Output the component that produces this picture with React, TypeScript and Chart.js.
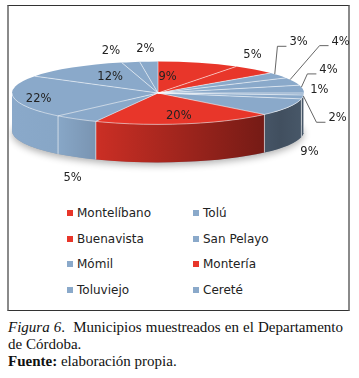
import React, { useEffect, useRef } from 'react';
import { Chart, registerables } from 'chart.js';
Chart.register(...registerables);

// ---- data ----
const sliceValues = [9, 5, 3, 4, 4, 1, 2, 9, 20, 5, 22, 12, 2, 2];
const sliceGroups = ['r', 'r', 'b', 'b', 'b', 'b', 'b', 'b', 'r', 'b', 'b', 'b', 'b', 'b'];
const legendNames = ['Montelíbano', 'Tolú', 'Buenavista', 'San Pelayo', 'Mómil', 'Montería', 'Toluviejo', 'Cereté'];
const legendGroups = ['r', 'b', 'r', 'b', 'b', 'r', 'b', 'b'];

// ---- style / layout ----
const RED = '#e8362a';
const BLUE = '#8aa9ca';
const groupColor = (g: string) => (g === 'r' ? RED : BLUE);
const TILT = 0.215;
const DEPTH = 38;
// label placement relative to each slice: angle shift (deg) and radius factor
const labelShift = [-9, -13, -25, -31, -25, -7, 26, 34, 0, -22, -6, 3.5, -2.6, 0];
const labelRadius = [0.52, 1.36, 1.88, 2.06, 1.38, 1.11, 1.47, 2.14, 0.76, 2.77, 0.84, 0.61, 1.39, 1.39];
const labelLeader = [false, false, true, true, true, false, true, false, false, false, false, false, false, false];
const shadeStops: [number, number][] = [[0, 1.0], [0.164, 0.98], [0.308, 0.86], [0.918, 0.47], [1, 0.52]];

function hexToRgb(hex: string) {
  const n = parseInt(hex.slice(1), 16);
  return [(n >> 16) & 255, (n >> 8) & 255, n & 255];
}
function shade(hex: string, f: number) {
  const [r, g, b] = hexToRgb(hex);
  return `rgb(${Math.round(r * f)},${Math.round(g * f)},${Math.round(b * f)})`;
}

const pie3d = {
  id: 'pie3d',
  beforeDatasetsDraw(chart: any) {
    const arcs = chart.getDatasetMeta(0).data;
    if (!arcs.length) return;
    const ctx = chart.ctx;
    const cx = arcs[0].x, cy = arcs[0].y, rx = arcs[0].outerRadius, ry = rx * TILT;
    // shadow under the pie
    ctx.save();
    ctx.beginPath();
    ctx.ellipse(cx, cy + DEPTH, rx, ry, 0, 0, Math.PI * 2);
    ctx.shadowColor = 'rgba(0,0,0,0.3)';
    ctx.shadowBlur = 7;
    ctx.shadowOffsetY = 3;
    ctx.fillStyle = '#8a9bb0';
    ctx.fill();
    ctx.restore();
    // sides
    arcs.forEach((arc: any, i: number) => {
      const t0 = Math.max(arc.startAngle, 0);
      const t1 = Math.min(arc.endAngle, Math.PI);
      if (t1 <= t0) return;
      const base = groupColor(sliceGroups[i]);
      const grad = ctx.createLinearGradient(cx - rx, 0, cx + rx, 0);
      shadeStops.forEach(([u, f]) => grad.addColorStop(u, shade(base, f)));
      ctx.beginPath();
      ctx.ellipse(cx, cy, rx, ry, 0, t0, t1, false);
      ctx.lineTo(cx + rx * Math.cos(t1), cy + DEPTH + ry * Math.sin(t1));
      ctx.ellipse(cx, cy + DEPTH, rx, ry, 0, t1, t0, true);
      ctx.closePath();
      ctx.fillStyle = grad;
      ctx.fill();
    });
    // vertical separators on side
    ctx.save();
    ctx.strokeStyle = 'rgba(255,255,255,0.6)';
    ctx.lineWidth = 1;
    arcs.forEach((arc: any) => {
      const a = arc.startAngle;
      if (a > 0 && a < Math.PI) {
        const x = cx + rx * Math.cos(a), y = cy + ry * Math.sin(a);
        ctx.beginPath();
        ctx.moveTo(x, y);
        ctx.lineTo(x, y + DEPTH);
        ctx.stroke();
      }
    });
    ctx.restore();
    // top face: let Chart.js draw arcs squashed vertically
    ctx.save();
    ctx.translate(cx, cy);
    ctx.scale(1, TILT);
    ctx.translate(-cx, -cy);
  },
  afterDatasetsDraw(chart: any) {
    const ctx = chart.ctx;
    ctx.restore();
    const arcs = chart.getDatasetMeta(0).data;
    if (!arcs.length) return;
    const cx = arcs[0].x, cy = arcs[0].y, rx = arcs[0].outerRadius, ry = rx * TILT;
    // slice boundaries on top face
    ctx.save();
    ctx.strokeStyle = 'rgba(255,255,255,0.55)';
    ctx.lineWidth = 1;
    arcs.forEach((arc: any) => {
      const a = arc.startAngle;
      ctx.beginPath();
      ctx.moveTo(cx, cy);
      ctx.lineTo(cx + rx * Math.cos(a), cy + ry * Math.sin(a));
      ctx.stroke();
    });
    ctx.beginPath();
    ctx.ellipse(cx, cy, rx, ry, 0, 0, Math.PI, false);
    ctx.strokeStyle = 'rgba(255,255,255,0.5)';
    ctx.stroke();
    ctx.restore();
    // labels
    ctx.save();
    ctx.font = '11.5px "DejaVu Sans"';
    ctx.textAlign = 'center';
    ctx.textBaseline = 'middle';
    arcs.forEach((arc: any, i: number) => {
      const mid = (arc.startAngle + arc.endAngle) / 2 + (labelShift[i] * Math.PI) / 180;
      const R = labelRadius[i];
      const lx = cx + R * rx * Math.cos(mid);
      const ly = cy + R * ry * Math.sin(mid);
      const text = sliceValues[i] + '%';
      if (labelLeader[i]) {
        const w = ctx.measureText(text).width;
        const left = lx - w / 2;
        const a = arc.startAngle + 0.25 * (arc.endAngle - arc.startAngle);
        ctx.beginPath();
        ctx.moveTo(cx + rx * Math.cos(a), cy + ry * Math.sin(a));
        ctx.lineTo(left - 12, ly + 4);
        ctx.lineTo(left - 3, ly + 4);
        ctx.strokeStyle = '#555';
        ctx.lineWidth = 0.9;
        ctx.stroke();
      }
      ctx.fillStyle = '#222';
      ctx.fillText(text, lx, ly);
    });
    ctx.restore();
  },
};

export default function App() {
  const ref = useRef<HTMLCanvasElement>(null);
  useEffect(() => {
    if (!ref.current) return;
    const chart = new Chart(ref.current, {
      type: 'pie',
      data: {
        labels: sliceValues.map((v) => v + '%'),
        datasets: [
          {
            data: sliceValues,
            backgroundColor: sliceGroups.map(groupColor),
            borderWidth: 0,
            clip: false as any,
          },
        ],
      },
      options: {
        responsive: false,
        animation: false,
        events: [],
        radius: 146,
        layout: { padding: { left: 0, top: 0, right: 42, bottom: 16 } },
        plugins: { legend: { display: false }, tooltip: { enabled: false } },
      } as any,
      plugins: [pie3d],
    });
    return () => chart.destroy();
  }, []);

  return (
    <div style={{ position: 'absolute', left: 0, top: 0, width: 359, height: 378, background: '#fff' }}>
      <div
        style={{
          position: 'absolute',
          left: 7,
          top: 5,
          width: 343,
          height: 306,
          boxSizing: 'border-box',
          borderTop: '1px solid #333',
          borderBottom: '1px solid #333',
          borderLeft: '2px solid #8a8a8a',
          borderRight: '2px solid #8a8a8a',
        }}
      />
      <canvas ref={ref} width={340} height={190} style={{ position: 'absolute', left: 9, top: 6, width: 340, height: 190 }} />
      {legendNames.map((name, i) => {
        const col = i % 2;
        const row = Math.floor(i / 2);
        const x = col === 0 ? 67 : 193;
        const yc = 213 + row * 25.6;
        return (
          <div
            key={name}
            style={{
              position: 'absolute',
              left: x,
              top: yc - 8,
              height: 16,
              display: 'flex',
              alignItems: 'center',
              font: '12px "DejaVu Sans"',
              color: '#222',
              whiteSpace: 'nowrap',
            }}
          >
            <span style={{ display: 'inline-block', width: 6, height: 6, background: groupColor(legendGroups[i]), marginRight: 4 }} />
            <span>{name}</span>
          </div>
        );
      })}
      <div
        style={{
          position: 'absolute',
          left: 8,
          top: 319,
          width: 335,
          font: '15px "Liberation Serif"',
          lineHeight: '17px',
          color: '#111',
        }}
      >
        <div style={{ textAlign: 'justify' }}>
          <i>Figura 6</i>.{'\u00a0 '}Municipios muestreados en el Departamento de Córdoba.
        </div>
        <div>
          <b>Fuente:</b> elaboración propia.
        </div>
      </div>
    </div>
  );
}
